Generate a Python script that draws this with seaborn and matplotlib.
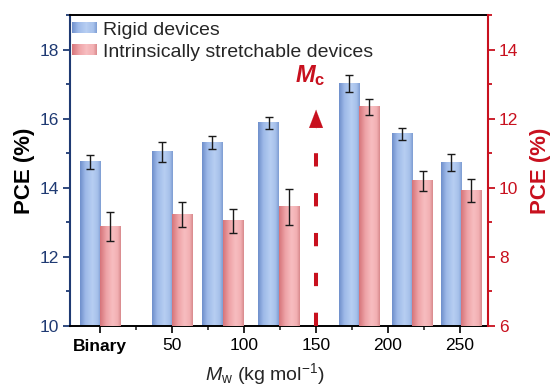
import numpy as np
import pandas as pd
import matplotlib
matplotlib.use("Agg")
import matplotlib.pyplot as plt
import seaborn as sns
from matplotlib.colors import LinearSegmentedColormap
from matplotlib.legend_handler import HandlerBase
from matplotlib.patches import Rectangle
from matplotlib.ticker import MultipleLocator

# ---- data -------------------------------------------------------------
tick_pos = [0, 50, 100, 150, 200, 250]
tick_labels = ["Binary", "50", "100", "150", "200", "250"]
mw = [0, 50, 85, 124, 180, 217, 251]                      # kg/mol (Binary at 0)
rigid_pce = [14.75, 15.04, 15.30, 15.88, 17.01, 15.56, 14.73]
rigid_err = [0.21, 0.29, 0.19, 0.17, 0.24, 0.17, 0.25]
stretch_pce = [8.88, 9.23, 9.04, 9.45, 12.34, 10.20, 9.92]
stretch_err = [0.42, 0.37, 0.36, 0.52, 0.23, 0.29, 0.33]
mc = 150

bar_w = 14.0
navy = "#1F3A73"
red = "#C8101E"

sns.set_style("ticks")
plt.rcParams.update({
    "font.family": ["Liberation Sans", "DejaVu Sans"],
    "mathtext.fontset": "custom",
    "mathtext.rm": "Liberation Sans",
    "mathtext.it": "Liberation Sans:italic",
    "mathtext.bf": "Liberation Sans:bold",
    "mathtext.bfit": "Liberation Sans:italic:bold",
})

blue_cmap = LinearSegmentedColormap.from_list(
    "bluebar", [(0, "#6F8FCB"), (0.25, "#9DB9E8"), (0.6, "#B7CEF2"),
                (0.85, "#A6C0EA"), (1, "#7E9DD3")])
red_cmap = LinearSegmentedColormap.from_list(
    "redbar", [(0, "#D6747A"), (0.3, "#EEA3A7"), (0.6, "#F7BDC0"),
               (0.85, "#F2B0B3"), (1, "#D98A8D")])

df_r = pd.DataFrame({"x": np.array(mw) - bar_w / 2, "pce": rigid_pce})
df_s = pd.DataFrame({"x": np.array(mw) + bar_w / 2, "pce": stretch_pce})

fig = plt.figure(figsize=(5.52, 3.88), dpi=100)
ax = fig.add_axes([70 / 552, 62 / 388, 418 / 552, 311 / 388])
ax2 = ax.twinx()


def native_width(xs):
    return bar_w / np.min(np.diff(np.sort(xs)))


sns.barplot(data=df_r, x="x", y="pce", native_scale=True, ax=ax,
            width=native_width(df_r["x"]), color="#9DB9E8", saturation=1,
            errorbar=None)
sns.barplot(data=df_s, x="x", y="pce", native_scale=True, ax=ax2,
            width=native_width(df_s["x"]), color="#EEA3A7", saturation=1,
            errorbar=None)


def shade_bars(axis, cmap):
    """Replace the flat bar fill with a horizontal cylinder-like gradient."""
    grad = np.linspace(0, 1, 64).reshape(1, -1)
    for p in list(axis.patches):
        x0, y0 = p.get_x(), p.get_y()
        w, h = p.get_width(), p.get_height()
        p.set_visible(False)
        axis.imshow(grad, extent=[x0, x0 + w, y0, y0 + h], aspect="auto",
                    cmap=cmap, interpolation="bilinear", zorder=2)


shade_bars(ax, blue_cmap)
shade_bars(ax2, red_cmap)

ax.errorbar(df_r["x"], rigid_pce, yerr=rigid_err, fmt="none", ecolor="#1A1A1A",
            elinewidth=1.0, capsize=2.6, capthick=1.0, zorder=4)
ax2.errorbar(df_s["x"], stretch_pce, yerr=stretch_err, fmt="none",
             ecolor="#1A1A1A", elinewidth=1.0, capsize=2.6, capthick=1.0,
             zorder=4)

# critical molecular weight marker
ax.plot([mc, mc], [10, 15.70], color=red, lw=2.9,
        linestyle=(0, (3.3, 6.6)), solid_capstyle="butt", zorder=3)
ax.annotate("", xy=(mc, 16.26), xytext=(mc, 15.70),
            arrowprops=dict(arrowstyle="-|>,head_length=1.3,head_width=0.5",
                            color=red, lw=0.1, shrinkA=0, shrinkB=0,
                            mutation_scale=10))
ax.text(mc - 4, 17.25, r"$\mathbfit{M}_{\mathbf{c}}$", color=red, fontsize=17,
        ha="center", va="center")

# axes limits and ticks
ax.set_xlim(-21, 269.5)
ax.set_ylim(10, 19)
ax2.set_ylim(6, 15)
ax.set_xticks(tick_pos, tick_labels)
ax.xaxis.set_minor_locator(MultipleLocator(25))
ax.set_yticks([10, 12, 14, 16, 18])
ax.yaxis.set_minor_locator(MultipleLocator(1))
ax2.set_yticks([6, 8, 10, 12, 14])
ax2.yaxis.set_minor_locator(MultipleLocator(1))

ax.tick_params(axis="x", which="major", direction="out", length=5, width=1.2,
               labelsize=12.5, colors="black", pad=4)
ax.tick_params(axis="x", which="minor", direction="out", length=3, width=1.2)
ax.tick_params(axis="y", which="major", direction="out", length=5, width=1.3,
               labelsize=12.5, colors=navy, pad=3)
ax.tick_params(axis="y", which="minor", direction="out", length=3, width=1.3,
               colors=navy)
ax2.tick_params(axis="y", which="major", direction="out", length=5, width=1.3,
                labelsize=12.5, colors=red, pad=3)
ax2.tick_params(axis="y", which="minor", direction="out", length=3, width=1.3,
                colors=red)
ax.get_xticklabels()[0].set_fontweight("bold")

for s in ["top", "bottom"]:
    ax.spines[s].set_color("black")
    ax.spines[s].set_linewidth(1.4)
    ax2.spines[s].set_visible(False)
ax.spines["left"].set_color(navy)
ax.spines["left"].set_linewidth(1.5)
ax.spines["right"].set_visible(False)
ax2.spines["left"].set_visible(False)
ax2.spines["right"].set_color(red)
ax2.spines["right"].set_linewidth(1.5)

ax.set_xlabel(r"$M_\mathrm{w}$ (kg mol$^{-1}$)", fontsize=14)
ax.xaxis.set_label_coords(0.466, -0.114)
ax.set_ylabel("PCE (%)", fontsize=16, fontweight="bold", color="black",
              labelpad=3)
ax2.set_ylabel("PCE (%)", fontsize=16, fontweight="bold", color=red,
               labelpad=8)


class GradientPatch(HandlerBase):
    def __init__(self, cmap, n=24):
        super().__init__()
        self.cmap = cmap
        self.n = n

    def create_artists(self, legend, orig_handle, xdescent, ydescent, width,
                       height, fontsize, trans):
        arts = []
        for i in range(self.n):
            arts.append(Rectangle((-xdescent + width * i / self.n, -ydescent),
                                  width / self.n + 0.05, height,
                                  facecolor=self.cmap((i + 0.5) / self.n),
                                  edgecolor="none", transform=trans))
        return arts


h_r = Rectangle((0, 0), 1, 1)
h_s = Rectangle((0, 0), 1, 1)
ax2.legend([h_r, h_s], ["Rigid devices", "Intrinsically stretchable devices"],
           handler_map={h_r: GradientPatch(blue_cmap),
                        h_s: GradientPatch(red_cmap)},
           loc="upper left", bbox_to_anchor=(0.004, 0.978), frameon=False,
           fontsize=14, handlelength=1.29, handleheight=0.5,
           handletextpad=0.31, labelspacing=0.24, borderaxespad=0,
           borderpad=0)

fig.savefig("out.png", dpi=100)
